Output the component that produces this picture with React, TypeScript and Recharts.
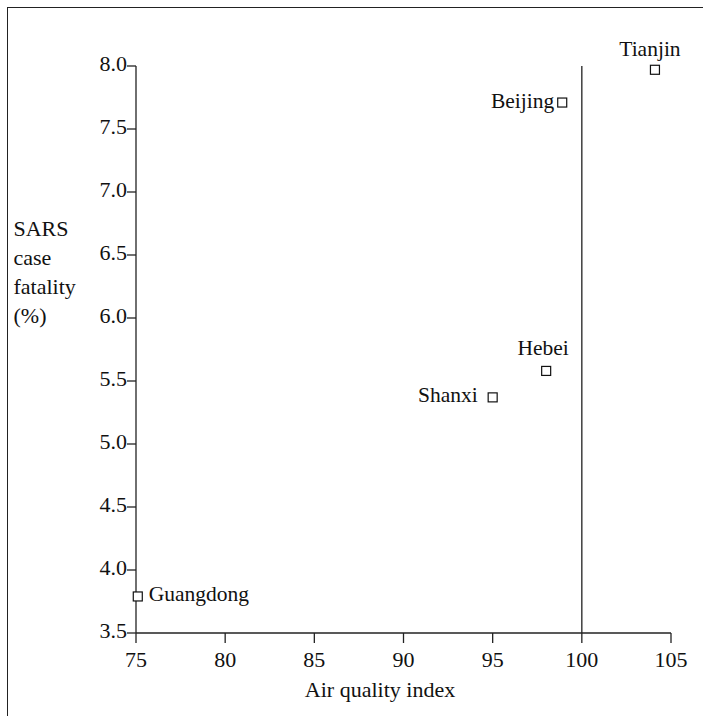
import { ScatterChart, Scatter, XAxis, YAxis, ReferenceLine } from "recharts";

// values
const PROVINCES = ["Tianjin", "Beijing", "Hebei", "Shanxi", "Guangdong"];
const AIR_QUALITY = [104.1, 98.9, 98, 95, 75.1];
const FATALITY = [7.97, 7.71, 5.58, 5.37, 3.79];

const X_TICKS = [75, 80, 85, 90, 95, 100, 105];
const Y_TICKS = [3.5, 4.0, 4.5, 5.0, 5.5, 6.0, 6.5, 7.0, 7.5, 8.0];
const Y_LABEL = ["SARS", "case", "fatality", "(%)"];

const FONT = "Liberation Serif";
const INK = "#111";
const LINE = "#222";

// where each point's name sits relative to its marker
const LABEL_PLACEMENT: Record<string, { dx: number; dy: number; anchor: "start" | "middle" | "end" }> = {
  Tianjin: { dx: -5, dy: -14, anchor: "middle" },
  Beijing: { dx: -8, dy: 5, anchor: "end" },
  Hebei: { dx: -3, dy: -16, anchor: "middle" },
  Shanxi: { dx: -15, dy: 5, anchor: "end" },
  Guangdong: { dx: 11, dy: 5, anchor: "start" },
};

const data = PROVINCES.map((name, i) => ({
  name,
  aqi: AIR_QUALITY[i],
  fatality: FATALITY[i],
}));

// eslint-disable-next-line @typescript-eslint/no-explicit-any
function SquarePoint({ cx, cy, payload }: any) {
  const p = LABEL_PLACEMENT[payload.name];
  return (
    <g>
      <rect x={cx - 4.5} y={cy - 4.5} width={9} height={9} fill="#fff" stroke={INK} strokeWidth={1.2} />
      <text x={cx + p.dx} y={cy + p.dy} textAnchor={p.anchor} fontFamily={FONT} fontSize={21.5} fill={INK}>
        {payload.name}
      </text>
    </g>
  );
}

export default function App() {
  return (
    <div style={{ position: "relative", width: 703, height: 716, overflow: "hidden", background: "#fff" }}>
      <style>{`body { margin: 0; }`}</style>
      <div
        style={{
          position: "absolute",
          left: 6.5,
          top: 6.5,
          width: 720,
          height: 760,
          borderLeft: `1.5px solid ${LINE}`,
          borderTop: `1.5px solid ${LINE}`,
        }}
      />
      <div style={{ position: "absolute", left: 0, top: 0 }}>
        <ScatterChart width={703} height={716} margin={{ top: 66, right: 32, bottom: 0, left: 0 }}>
          <XAxis
            type="number"
            dataKey="aqi"
            domain={[75, 105]}
            ticks={X_TICKS}
            interval={0}
            height={83}
            tickSize={10}
            tickMargin={8}
            stroke={LINE}
            axisLine={{ stroke: LINE, strokeWidth: 1.3 }}
            tickLine={{ stroke: LINE, strokeWidth: 1.3 }}
            tick={{ fontFamily: FONT, fontSize: 22, fill: INK }}
          />
          <YAxis
            type="number"
            dataKey="fatality"
            domain={[3.5, 8]}
            ticks={Y_TICKS}
            interval={0}
            width={136}
            tickSize={9}
            tickMargin={0}
            stroke={LINE}
            axisLine={{ stroke: LINE, strokeWidth: 1.3 }}
            tickLine={{ stroke: LINE, strokeWidth: 1.3 }}
            tickFormatter={(v: number) => v.toFixed(1)}
            tick={{ fontFamily: FONT, fontSize: 22, fill: INK, dy: -3 }}
          />
          <ReferenceLine x={100} stroke={LINE} strokeWidth={1.3} />
          <Scatter data={data} shape={<SquarePoint />} isAnimationActive={false} />
        </ScatterChart>
      </div>
      {/* axis titles */}
      <svg width={703} height={716} style={{ position: "absolute", left: 0, top: 0, pointerEvents: "none" }}>
        <text fontFamily={FONT} fontSize={22} fill={INK}>
          {Y_LABEL.map((line, i) => (
            <tspan key={line} x={13.5} y={236 + i * 29}>
              {line}
            </tspan>
          ))}
        </text>
        <text x={380} y={697} textAnchor="middle" fontFamily={FONT} fontSize={22} fill={INK}>
          Air quality index
        </text>
      </svg>
    </div>
  );
}
